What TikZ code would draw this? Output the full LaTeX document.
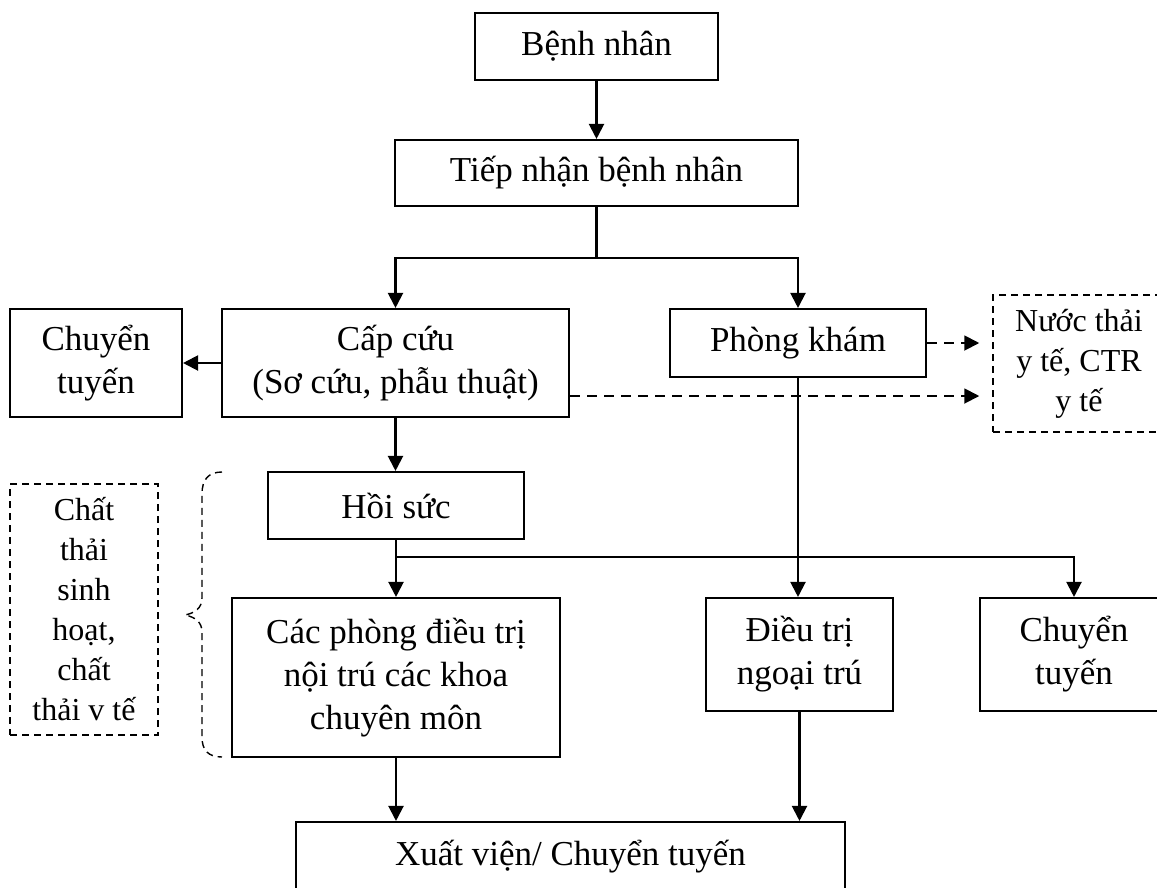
\documentclass[tikz,border=0pt]{standalone}
\usepackage{fontspec}
\setmainfont{Liberation Serif}
\usetikzlibrary{arrows.meta}
\begin{document}
\begin{tikzpicture}[x=1pt,y=-1pt,
  box/.style={draw, line width=2.1pt, inner sep=0pt, align=center, font=\fontsize{35}{43}\selectfont},
  dbox/.style={draw, line width=1.5pt, dash pattern=on 7pt off 5pt, inner sep=0pt, align=center, font=\fontsize{32}{40}\selectfont},
  conn/.style={line width=2.1pt},
  arr/.style={conn, -{Triangle[length=15pt,width=15pt]}},
  darr/.style={line width=1.9pt, dash pattern=on 10pt off 7pt, -{Triangle[length=15pt,width=15pt]}},
  bracestyle/.style={line width=1.4pt, dash pattern=on 7pt off 5pt}
]
\useasboundingbox (0,0) rectangle (1157,887);
\clip (0,0) rectangle (1157,887);
% nodes
\node[box, minimum width=243pt, minimum height=67pt] (bn) at (596.5,46.5) {Bệnh nhân};
\node[box, minimum width=403pt, minimum height=66pt] (tn) at (596.5,173) {Tiếp nhận bệnh nhân};
\node[box, minimum width=347pt, minimum height=108pt] (cc) at (395.5,363) {Cấp cứu\\(Sơ cứu, phẫu thuật)};
\node[box, minimum width=172pt, minimum height=108pt] (ct1) at (96,363) {Chuyển\\tuyến};
\node[box, minimum width=256pt, minimum height=68pt] (pk) at (798,343) {Phòng khám};
\node[dbox, minimum width=172pt, minimum height=137pt] (nt) at (1079,363.5) {Nước thải\\y tế, CTR\\y tế};
\node[box, minimum width=256pt, minimum height=67pt] (hs) at (396,505.5) {Hồi sức};
\node[box, minimum width=328pt, minimum height=159pt] (cp) at (396,677.5) {Các phòng điều trị\\nội trú các khoa\\chuyên môn};
\node[box, minimum width=187pt, minimum height=113pt] (dt) at (799.5,654.5) {Điều trị\\ngoại trú};
\node[box, minimum width=188pt, minimum height=113pt] (ct2) at (1074,654.5) {Chuyển\\tuyến};
\node[dbox, minimum width=148pt, minimum height=251pt] (ctsh) at (84,609.5) {Chất\\thải\\sinh\\hoạt,\\chất\\thải v tế};
\node[box, minimum width=549pt, minimum height=70pt] (xv) at (570.5,857) {Xuất viện/ Chuyển tuyến};
% helper coordinates
\coordinate (y258) at (0,258);
\coordinate (y396) at (0,396);
\coordinate (y557) at (0,557);
\coordinate (j1) at (tn.south |- y258);
\coordinate (j2) at (hs.south |- y557);
% connectors
\draw[arr] (bn.south) -- (tn.north);
\draw[conn] (tn.south) -- (j1);
\draw[arr] (j1) -| (cc.north);
\draw[arr] (j1) -| (pk.north);
\draw[arr] (cc.west) -- (ct1.east);
\draw[darr, shorten >=13pt] (pk.east) -- (pk.east -| nt.west);
\draw[darr, shorten >=13pt] (cc.east |- y396) -- (nt.west |- y396);
\draw[arr] (cc.south) -- (cc.south |- hs.north);
\draw[arr] (hs.south) -- (cp.north);
\draw[arr] (j2) -| (ct2.north);
\draw[arr] (pk.south) -- (pk.south |- dt.north);
\draw[arr] (cp.south) -- (cp.south |- xv.north);
\draw[arr] (dt.south) -- (dt.south |- xv.north);
% brace
\draw[bracestyle] (222,472) .. controls (208,472) and (202,480) .. (202,494) -- (202,598) .. controls (202,608) and (195,613) .. (185,615) .. controls (195,617) and (202,622) .. (202,632) -- (202,737) .. controls (202,750) and (208,757) .. (222,757);
\end{tikzpicture}
\end{document}
